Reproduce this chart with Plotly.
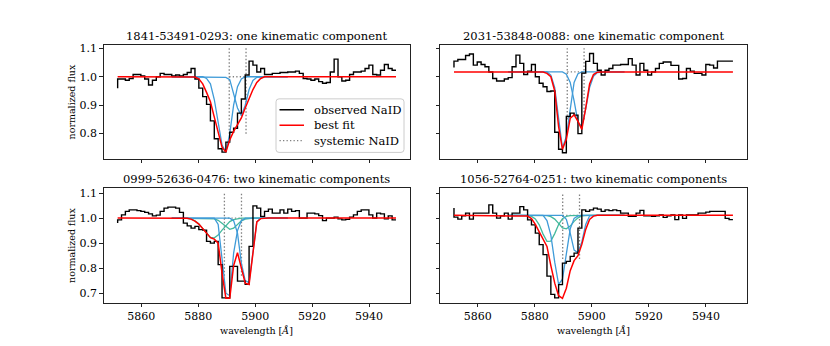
import plotly.graph_objects as go

# ---------------- data ----------------
wave = [5851.70, 5853.06, 5854.42, 5855.77, 5857.13, 5858.49, 5859.85, 5861.21, 5862.56, 5863.92,
        5865.28, 5866.64, 5868.00, 5869.35, 5870.71, 5872.07, 5873.43, 5874.79, 5876.14, 5877.50,
        5878.86, 5880.22, 5881.58, 5882.93, 5884.29, 5885.65, 5887.01, 5888.37, 5889.72, 5891.08,
        5892.44, 5893.80, 5895.16, 5896.51, 5897.87, 5899.23, 5900.59, 5901.95, 5903.30, 5904.66,
        5906.02, 5907.38, 5908.74, 5910.09, 5911.45, 5912.81, 5914.17, 5915.53, 5916.88, 5918.24,
        5919.60, 5920.96, 5922.32, 5923.67, 5925.03, 5926.39, 5927.75, 5929.11, 5930.46, 5931.82,
        5933.18, 5934.54, 5935.90, 5937.25, 5938.61, 5939.97, 5941.33, 5942.69, 5944.04, 5945.40,
        5946.76, 5948.12, 5949.47]

# observed NaID spectra
tl_obs = [0.960, 0.992, 0.992, 0.988, 0.994, 1.008, 1.008, 1.003, 0.992, 0.971,
          0.988, 1.000, 1.012, 1.008, 1.008, 1.003, 1.006, 1.003, 1.008, 1.015,
          1.029, 0.992, 0.960, 0.930, 0.903, 0.845, 0.782, 0.747, 0.735, 0.770,
          0.805, 0.819, 0.872, 0.922, 1.006, 1.055, 1.041, 1.017, 1.029, 1.008,
          1.008, 1.012, 1.012, 1.015, 1.015, 1.017, 1.017, 1.020, 1.012, 0.994,
          0.992, 0.988, 0.992, 0.983, 0.977, 0.980, 1.017, 1.062, 1.000, 0.985,
          0.988, 1.008, 1.017, 1.017, 1.020, 1.029, 1.041, 1.008, 1.006, 1.023,
          1.043, 1.029, 1.023]
tr_obs = [1.033, 1.055, 1.061, 1.061, 1.075, 1.080, 1.041, 1.052, 1.043, 1.035,
          1.017, 0.994, 0.985, 0.985, 0.992, 0.997, 1.035, 1.076, 1.047, 1.008,
          1.020, 1.043, 1.000, 0.977, 0.965, 0.948, 0.950, 0.805, 0.745, 0.733,
          0.860, 0.872, 0.865, 0.800, 1.013, 1.054, 1.082, 1.047, 1.023, 1.006,
          1.023, 1.029, 1.041, 1.041, 1.043, 1.043, 1.064, 1.041, 1.006, 1.047,
          1.023, 1.006, 1.017, 1.029, 1.047, 1.052, 1.052, 1.040, 1.040, 0.992,
          0.994, 1.029, 1.020, 1.012, 1.012, 1.006, 1.043, 1.041, 1.031, 1.055,
          1.055, 1.055, 1.055]
bl_obs = [0.980, 0.993, 1.013, 1.027, 1.033, 1.033, 1.030, 1.027, 1.023, 1.017,
          1.009, 1.012, 1.027, 1.040, 1.044, 1.044, 1.040, 1.023, 0.980, 0.969,
          0.960, 0.967, 0.954, 0.952, 0.907, 0.900, 0.907, 0.814, 0.681, 0.681,
          0.807, 0.807, 0.748, 0.748, 0.735, 0.887, 1.049, 1.040, 1.007, 1.027,
          1.036, 1.020, 1.020, 1.033, 1.020, 1.036, 1.027, 1.030, 1.000, 1.000,
          1.020, 1.020, 1.017, 1.010, 0.990, 1.000, 1.000, 1.004, 0.997, 0.993,
          0.995, 1.004, 1.013, 1.027, 1.033, 1.033, 1.013, 1.000, 1.020, 1.017,
          0.997, 1.009, 0.993]
br_obs = [1.040, 1.004, 0.996, 1.009, 1.020, 0.996, 1.020, 1.020, 1.020, 1.020,
          1.053, 1.020, 1.000, 1.009, 1.020, 0.996, 1.020, 1.020, 1.046, 1.033,
          0.993, 0.973, 0.940, 0.894, 0.854, 0.768, 0.695, 0.681, 0.734, 0.820,
          0.827, 0.847, 0.860, 0.960, 1.033, 1.027, 1.033, 1.040, 1.036, 1.027,
          1.033, 1.030, 1.033, 1.030, 1.020, 1.020, 1.007, 1.007, 1.020, 1.031,
          1.009, 1.009, 1.007, 1.009, 1.013, 1.003, 1.009, 1.013, 0.994, 1.013,
          0.999, 1.013, 1.013, 1.013, 1.020, 1.020, 1.024, 1.027, 1.027, 1.027,
          1.027, 0.999, 0.994]

# best fit models
tl_fit = [1.000, 1.000, 1.000, 1.000, 1.000, 1.000, 1.000, 1.000, 1.000, 1.000,
          1.000, 1.000, 1.000, 1.000, 1.000, 1.000, 1.000, 1.000, 1.000, 1.000,
          0.999, 0.993, 0.975, 0.945, 0.912, 0.858, 0.800, 0.752, 0.735, 0.778,
          0.808, 0.832, 0.855, 0.890, 0.925, 0.955, 0.980, 0.994, 1.000, 1.000,
          1.000, 1.000, 1.000, 1.000, 1.000, 1.000, 1.000, 1.000, 1.000, 1.000,
          1.000, 1.000, 1.000, 1.000, 1.000, 1.000, 1.000, 1.000, 1.000, 1.000,
          1.000, 1.000, 1.000, 1.000, 1.000, 1.000, 1.000, 1.000, 1.000, 1.000,
          1.000, 1.000, 1.000]
tr_fit = [1.017, 1.017, 1.017, 1.017, 1.017, 1.017, 1.017, 1.017, 1.017, 1.017,
          1.017, 1.017, 1.017, 1.017, 1.017, 1.017, 1.017, 1.017, 1.017, 1.017,
          1.017, 1.017, 1.017, 1.017, 1.012, 1.000, 0.950, 0.825, 0.745, 0.780,
          0.854, 0.866, 0.843, 0.815, 0.890, 0.975, 1.008, 1.016, 1.017, 1.017,
          1.017, 1.017, 1.017, 1.017, 1.017, 1.017, 1.017, 1.017, 1.017, 1.017,
          1.017, 1.017, 1.017, 1.017, 1.017, 1.017, 1.017, 1.017, 1.017, 1.017,
          1.017, 1.017, 1.017, 1.017, 1.017, 1.017, 1.017, 1.017, 1.017, 1.017,
          1.017, 1.017, 1.017]
bl_fit = [1.000, 1.000, 1.000, 1.000, 1.000, 1.000, 1.000, 1.000, 1.000, 1.000,
          1.000, 1.000, 1.000, 1.000, 1.000, 1.000, 1.000, 1.000, 0.999, 0.996,
          0.988, 0.976, 0.958, 0.938, 0.922, 0.916, 0.900, 0.780, 0.680, 0.680,
          0.810, 0.862, 0.800, 0.740, 0.735, 0.870, 0.985, 0.998, 1.000, 1.000,
          1.000, 1.000, 1.000, 1.000, 1.000, 1.000, 1.000, 1.000, 1.000, 1.000,
          1.000, 1.000, 1.000, 1.000, 1.000, 1.000, 1.000, 1.000, 1.000, 1.000,
          1.000, 1.000, 1.000, 1.000, 1.000, 1.000, 1.000, 1.000, 1.000, 1.000,
          1.000, 1.000, 1.000]
br_fit = [1.011, 1.011, 1.011, 1.011, 1.011, 1.011, 1.011, 1.011, 1.011, 1.011,
          1.011, 1.011, 1.011, 1.011, 1.011, 1.011, 1.011, 1.011, 1.011, 1.008,
          0.998, 0.975, 0.945, 0.915, 0.887, 0.810, 0.740, 0.690, 0.679, 0.720,
          0.790, 0.830, 0.850, 0.895, 0.955, 0.995, 1.008, 1.011, 1.011, 1.011,
          1.011, 1.011, 1.011, 1.011, 1.011, 1.011, 1.011, 1.011, 1.011, 1.011,
          1.011, 1.011, 1.011, 1.011, 1.011, 1.011, 1.011, 1.011, 1.011, 1.011,
          1.011, 1.011, 1.011, 1.011, 1.011, 1.011, 1.011, 1.011, 1.011, 1.011,
          1.011, 1.011, 1.011]

# kinematic components, given on the absorption window wave[14:45]
comp_first, comp_last = 14, 45
tl_comp_d2 = [1.000, 1.000, 1.000, 1.000, 1.000, 1.000, 1.000, 1.000, 1.000, 0.994,
              0.975, 0.920, 0.840, 0.760, 0.735, 0.800, 0.900, 0.965, 0.992, 1.000,
              1.000, 1.000, 1.000, 1.000, 1.000, 1.000, 1.000, 1.000, 1.000, 1.000, 1.000]
tl_comp_d1 = [1.000, 1.000, 1.000, 1.000, 1.000, 1.000, 1.000, 1.000, 1.000, 1.000,
              1.000, 1.000, 1.000, 1.000, 0.998, 0.990, 0.940, 0.890, 0.863, 0.900,
              0.955, 0.987, 0.998, 1.000, 1.000, 1.000, 1.000, 1.000, 1.000, 1.000, 1.000]
tr_comp_d2 = [1.017, 1.017, 1.017, 1.017, 1.017, 1.017, 1.017, 1.017, 1.017, 1.017,
              1.017, 1.006, 0.962, 0.854, 0.750, 0.790, 0.890, 0.980, 1.011, 1.017,
              1.017, 1.017, 1.017, 1.017, 1.017, 1.017, 1.017, 1.017, 1.017, 1.017, 1.017]
tr_comp_d1 = [1.017, 1.017, 1.017, 1.017, 1.017, 1.017, 1.017, 1.017, 1.017, 1.017,
              1.017, 1.017, 1.017, 1.017, 1.017, 1.009, 0.980, 0.915, 0.840, 0.825,
              0.887, 0.962, 1.002, 1.015, 1.017, 1.017, 1.017, 1.017, 1.017, 1.017, 1.017]
bl_comp_b1 = [1.000, 1.000, 1.000, 1.000, 1.000, 1.000, 1.000, 1.000, 1.000, 1.000,
              1.000, 1.000, 0.975, 0.830, 0.700, 0.690, 0.860, 0.950, 0.990, 1.000,
              1.000, 1.000, 1.000, 1.000, 1.000, 1.000, 1.000, 1.000, 1.000, 1.000, 1.000]
bl_comp_b2 = [1.000, 1.000, 1.000, 1.000, 1.000, 1.000, 1.000, 1.000, 1.000, 1.000,
              1.000, 1.000, 1.000, 1.000, 1.000, 1.000, 0.990, 0.940, 0.820, 0.750,
              0.742, 0.875, 0.985, 1.000, 1.000, 1.000, 1.000, 1.000, 1.000, 1.000, 1.000]
bl_comp_g1 = [1.000, 1.000, 1.000, 1.000, 0.999, 0.996, 0.989, 0.977, 0.958, 0.938,
              0.923, 0.921, 0.932, 0.952, 0.971, 0.986, 0.994, 0.998, 1.000, 1.000,
              1.000, 1.000, 1.000, 1.000, 1.000, 1.000, 1.000, 1.000, 1.000, 1.000, 1.000]
bl_comp_g2 = [1.000, 1.000, 1.000, 1.000, 1.000, 1.000, 1.000, 1.000, 1.000, 1.000,
              0.999, 0.997, 0.991, 0.979, 0.964, 0.955, 0.960, 0.975, 0.989, 0.996,
              0.999, 1.000, 1.000, 1.000, 1.000, 1.000, 1.000, 1.000, 1.000, 1.000, 1.000]
br_comp_b1 = [1.011, 1.011, 1.011, 1.011, 1.011, 1.011, 1.011, 1.011, 1.011, 1.011,
              0.990, 0.932, 0.824, 0.735, 0.756, 0.864, 0.957, 0.999, 1.009, 1.011,
              1.011, 1.011, 1.011, 1.011, 1.011, 1.011, 1.011, 1.011, 1.011, 1.011, 1.011]
br_comp_b2 = [1.011, 1.011, 1.011, 1.011, 1.011, 1.011, 1.011, 1.011, 1.011, 1.011,
              1.011, 1.011, 1.011, 1.011, 1.011, 0.995, 0.940, 0.872, 0.862, 0.905,
              0.975, 1.009, 1.011, 1.011, 1.011, 1.011, 1.011, 1.011, 1.011, 1.011, 1.011]
br_comp_g1 = [1.011, 1.011, 1.011, 1.011, 1.011, 1.010, 1.007, 0.997, 0.973, 0.936,
              0.907, 0.908, 0.938, 0.974, 0.998, 1.007, 1.010, 1.011, 1.011, 1.011,
              1.011, 1.011, 1.011, 1.011, 1.011, 1.011, 1.011, 1.011, 1.011, 1.011, 1.011]
br_comp_g2 = [1.011, 1.011, 1.011, 1.011, 1.011, 1.011, 1.011, 1.011, 1.011, 1.011,
              1.010, 1.006, 0.996, 0.979, 0.961, 0.957, 0.968, 0.987, 1.001, 1.009,
              1.011, 1.011, 1.011, 1.011, 1.011, 1.011, 1.011, 1.011, 1.011, 1.011, 1.011]

# systemic NaID wavelengths, vertical extent and continuum level per panel
tl_sys = [5890.9, 5896.8]
tr_sys = [5891.4, 5897.3]
bl_sys = [5889.2, 5895.2]
br_sys = [5889.8, 5895.7]
sys_ylo = [0.800, 0.850, 0.770, 0.837]
sys_yhi = [1.100, 1.100, 1.100, 1.100]
sys_cont = [1.000, 1.017, 1.000, 1.011]

titles = ["1841-53491-0293: one kinematic component",
          "2031-53848-0088: one kinematic component",
          "0999-52636-0476: two kinematic components",
          "1056-52764-0251: two kinematic components"]
x_ticks = [5860, 5880, 5900, 5920, 5940]
y_ticks_top = [0.8, 0.9, 1.0, 1.1]
y_ticks_bot = [0.7, 0.8, 0.9, 1.0, 1.1]
legend_labels = ["observed NaID", "best fit", "systemic NaID"]

# ---------------- styling ----------------
W, H = 830, 346
FONT = "DejaVu Serif"
BLUE = "#3f9bd8"
GREEN = "#45b99d"
RED = "#ff0000"
GRAY = "#808080"


def px(x):
    return x / W


def py(y):
    return 1 - y / H


col_dom = [(px(103.7), px(410.0)), (px(440.0), px(747.0))]
row_dom = [(py(157.3), py(42.3)), (py(302.3), py(186.7))]
yr_top = [0.711, 1.112]
yr_bot = [0.662, 1.120]

panels = [
    dict(obs=tl_obs, fit=tl_fit, comps=[(tl_comp_d2, BLUE), (tl_comp_d1, BLUE)], sys=tl_sys),
    dict(obs=tr_obs, fit=tr_fit, comps=[(tr_comp_d2, BLUE), (tr_comp_d1, BLUE)], sys=tr_sys),
    dict(obs=bl_obs, fit=bl_fit, comps=[(bl_comp_g1, GREEN), (bl_comp_g2, GREEN),
                                        (bl_comp_b1, BLUE), (bl_comp_b2, BLUE)], sys=bl_sys),
    dict(obs=br_obs, fit=br_fit, comps=[(br_comp_g1, GREEN), (br_comp_g2, GREEN),
                                        (br_comp_b1, BLUE), (br_comp_b2, BLUE)], sys=br_sys),
]

fig = go.Figure()
comp_wave = wave[comp_first:comp_last]

for i, p in enumerate(panels):
    xa = "x" if i == 0 else "x%d" % (i + 1)
    ya = "y" if i == 0 else "y%d" % (i + 1)
    s = p["sys"]
    # systemic NaID (dotted)
    fig.add_trace(go.Scatter(
        x=[s[0], s[0], None, s[1], s[1], None, s[0], s[1]],
        y=[sys_ylo[i], sys_yhi[i], None, sys_ylo[i], sys_yhi[i], None, sys_cont[i], sys_cont[i]],
        mode="lines", line=dict(color=GRAY, width=1.3, dash="1.3px,2.2px"),
        xaxis=xa, yaxis=ya, hoverinfo="skip", showlegend=False))
    # kinematic components
    for comp, colr in p["comps"]:
        fig.add_trace(go.Scatter(x=comp_wave, y=comp, mode="lines",
                                 line=dict(color=colr, width=1.3),
                                 xaxis=xa, yaxis=ya, hoverinfo="skip", showlegend=False))
    # observed spectrum
    fig.add_trace(go.Scatter(x=wave, y=p["obs"], mode="lines",
                             line=dict(color="black", width=1.4, shape="vh"),
                             xaxis=xa, yaxis=ya, hoverinfo="skip", showlegend=False))
    # best fit
    fig.add_trace(go.Scatter(x=wave, y=p["fit"], mode="lines",
                             line=dict(color=RED, width=1.5),
                             xaxis=xa, yaxis=ya, hoverinfo="skip", showlegend=False))

axis_common = dict(showline=True, mirror=True, linecolor="#222", linewidth=0.9,
                   ticks="outside", ticklen=3.5, tickwidth=0.9, tickcolor="#222",
                   showgrid=False, zeroline=False,
                   tickfont=dict(family=FONT, size=11, color="black"))

layout = dict(width=W, height=H, margin=dict(l=0, r=0, t=0, b=0),
              paper_bgcolor="white", plot_bgcolor="white", showlegend=False)

for i in range(4):
    r, c = divmod(i, 2)
    xk = "xaxis" if i == 0 else "xaxis%d" % (i + 1)
    yk = "yaxis" if i == 0 else "yaxis%d" % (i + 1)
    xanchor = "y" if i == 0 else "y%d" % (i + 1)
    yanchor = "x" if i == 0 else "x%d" % (i + 1)
    yt = y_ticks_top if r == 0 else y_ticks_bot
    layout[xk] = dict(axis_common, domain=list(col_dom[c]), anchor=xanchor,
                      range=[5846.8, 5954.4], tickvals=x_ticks,
                      ticktext=[str(v) for v in x_ticks], showticklabels=(r == 1))
    layout[yk] = dict(axis_common, domain=list(row_dom[r]), anchor=yanchor,
                      range=yr_top if r == 0 else yr_bot, tickvals=yt,
                      ticktext=["%.1f" % v for v in yt], showticklabels=(c == 0))

fig.update_layout(**layout)

ann = []
# titles
for i, t in enumerate(titles):
    r, c = divmod(i, 2)
    ann.append(dict(text=t, x=(col_dom[c][0] + col_dom[c][1]) / 2, y=py(33.0 if r == 0 else 178.0),
                    xref="paper", yref="paper", showarrow=False, xanchor="center", yanchor="middle",
                    font=dict(family=FONT, size=11.5, color="black")))
# y labels
for r in range(2):
    ann.append(dict(text="normalized flux", x=px(71.5), y=(row_dom[r][0] + row_dom[r][1]) / 2,
                    xref="paper", yref="paper", showarrow=False, textangle=-90,
                    xanchor="center", yanchor="middle",
                    font=dict(family=FONT, size=9.5, color="black")))
# x labels
for c in range(2):
    ann.append(dict(text="wavelength [<i>Å</i>]", x=(col_dom[c][0] + col_dom[c][1]) / 2, y=py(330.5),
                    xref="paper", yref="paper", showarrow=False, xanchor="center", yanchor="middle",
                    font=dict(family=FONT, size=9.5, color="black")))

# legend (top-left panel, lower right)
shapes = []
lx0, lx1, ly0, ly1, rad = 276.0, 404.0, 96.7, 150.7, 3.0
path = ("M {a},{b} L {c},{b} Q {d},{b} {d},{e} L {d},{f} Q {d},{g} {c},{g} "
        "L {a},{g} Q {h},{g} {h},{f} L {h},{e} Q {h},{b} {a},{b} Z").format(
    a=px(lx0 + rad), b=py(ly0), c=px(lx1 - rad), d=px(lx1), e=py(ly0 + rad),
    f=py(ly1 - rad), g=py(ly1), h=px(lx0))
shapes.append(dict(type="path", path=path, xref="paper", yref="paper",
                   fillcolor="rgba(255,255,255,0.8)", line=dict(color="#cccccc", width=1),
                   layer="above"))
leg_styles = [dict(color="black", width=1.5), dict(color=RED, width=1.5),
              dict(color=GRAY, width=1.3, dash="1.3px,2.2px")]
for j, (lab, st) in enumerate(zip(legend_labels, leg_styles)):
    yy = 107.7 + j * 15.6
    shapes.append(dict(type="line", xref="paper", yref="paper", x0=px(279.5), x1=px(304.0),
                       y0=py(yy), y1=py(yy), line=st, layer="above"))
    ann.append(dict(text=lab, x=px(311.5), y=py(yy), xref="paper", yref="paper", showarrow=False,
                    xanchor="left", yanchor="middle",
                    font=dict(family=FONT, size=11.5, color="black")))

fig.update_layout(annotations=ann, shapes=shapes)
fig.write_html("out.html", config={"displayModeBar": False},
               post_script="document.body.style.margin='0';")
